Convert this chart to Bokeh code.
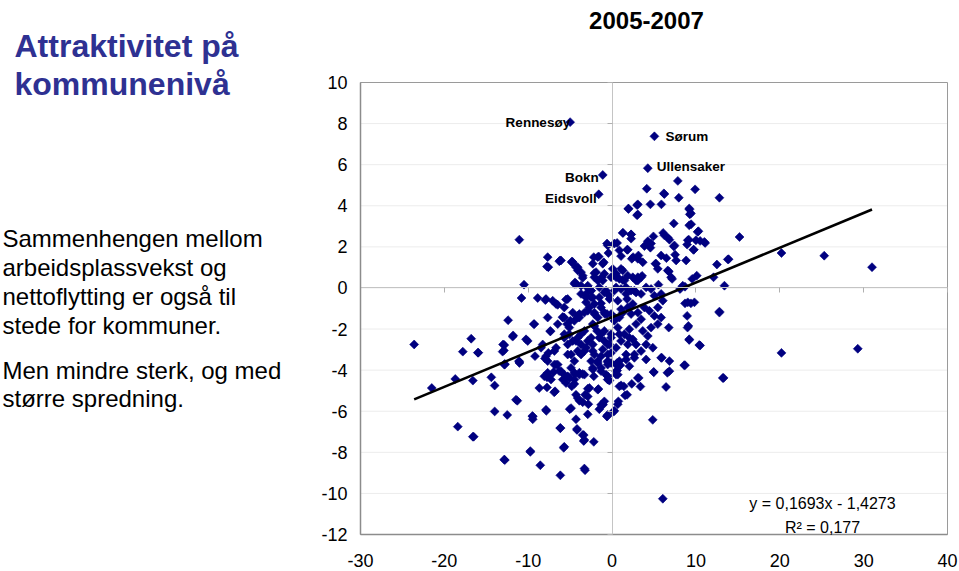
import numpy as np
from bokeh.plotting import figure
from bokeh.models import FixedTicker, Label, Range1d, LinearAxis
from bokeh.embed import file_html
from bokeh.resources import INLINE

# ---------------- data ----------------
X_TICKS = [-30, -20, -10, 0, 10, 20, 30, 40]
Y_TICKS = [-12, -10, -8, -6, -4, -2, 0, 2, 4, 6, 8, 10]

TITLE_LINES = ["Attraktivitet på", "kommunenivå"]
BODY_LINES_1 = ["Sammenhengen mellom", "arbeidsplassvekst og", "nettoflytting er også til", "stede for kommuner."]
BODY_LINES_2 = ["Men mindre sterk, og med", "større spredning."]
PERIOD = "2005-2007"

SLOPE = 0.1693
INTERCEPT = -1.4273
EQ_TEXT = "y = 0,1693x - 1,4273"
R2_TEXT = "R² = 0,177"

label_names = ["Rennesøy", "Sørum", "Ullensaker", "Bokn", "Eidsvoll"]
label_x = [-5.0, 5.05, 4.26, -1.11, -1.59]
label_y = [8.07, 7.38, 5.83, 5.5, 4.56]

pts_upper_right = [
    (7.84, 5.21), (4.14, 4.83), (6.17, 4.6), (9.9, 4.8), (7.96, 4.39), (12.8, 4.39),
    (3.07, 4.07), (4.57, 4.07), (5.88, 4.07), (1.95, 3.84), (9.23, 3.82), (3.07, 3.58), (9.27, 3.58),
    (7.36, 3.14), (9.43, 3.1), (10.3, 2.76), (1.31, 2.68), (2.27, 2.61), (6.09, 2.68), (4.93, 2.51),
    (6.84, 2.35), (9.15, 2.35), (10.5, 2.29), (11.1, 2.19), (15.2, 2.48), (-0.6, 2.16), (0.6, 2.19),
    (4.26, 2.27), (3.86, 2.04), (4.57, 1.96), (8.95, 2.11), (7.36, 2.02), (1.79, 1.86), (9.7, 1.86),
    (-0.44, 1.7), (1.07, 1.55), (2.51, 1.5), (3.07, 1.42), (7.52, 1.62), (6.48, 1.45), (13.8, 1.39),
    (12.5, 1.14), (5.17, 1.18), (5.45, 0.93), (6.77, 0.8), (3.58, 0.59), (10.1, 0.6), (9.55, 0.44),
    (7.16, 0.44), (12.1, 0.52), (13.4, 0.11), (5.53, 0.16), (8.43, 0.11), (8.11, -0.05), (9.03, -0.7),
    (9.82, -0.7), (12.8, -1.15), (8.95, -1.36),
    (6.24, 4.57), (9.2, 3.87), (9.4, 3.63), (7.44, 2.07), (6.64, 2.45), (9.03, 2.32), (10.0, 2.32),
    (9.75, 1.86), (6.24, 2.56), (4.65, 2.16), (2.27, 2.4), (5.85, 1.58), (3.14, 1.58), (3.66, 1.25),
    (5.25, 1.18), (6.64, 0.85), (7.04, 0.52), (7.64, 1.34), (8.83, 1.34), (11.0, 2.24), (10.2, 2.73),
    (9.2, 3.05),
]
pts_right = [
    (20.2, 1.7), (25.3, 1.57), (31.0, 1.01), (20.2, -3.16), (29.3, -2.96), (13.2, -4.38), (13.9, 1.4),
    (8.7, 0.06), (9.4, -0.75), (8.7, -0.75), (9.0, -1.93), (9.2, -2.5), (10.4, -2.78), (6.76, -1.93),
    (8.6, -3.76), (5.85, -3.4), (6.84, -3.56), (6.84, -4.05), (6.6, -4.13), (4.97, -4.09), (3.07, -4.38),
    (12.8, -1.2), (9.1, -1.85), (9.2, -2.53), (10.5, -2.8), (5.93, -3.4), (8.7, -3.76), (4.97, -4.1),
    (13.3, -4.38), (3.18, -4.38), (2.35, -4.67), (3.38, -4.8), (1.07, -4.74), (6.44, -4.82), (-0.32, -4.51),
    (1.55, -5.23), (0.75, -5.52), (0.27, -5.98), (-0.6, -6.26), (-1.1, -5.69), (4.85, -6.42), (-0.52, -3.6),
    (0.68, -3.73), (0.48, -4.05), (6.05, -10.26),
]
pts_lower_left = [
    (-21.5, -4.87), (-18.7, -4.43), (-16.6, -4.51), (-14.4, -4.35), (-14.0, -4.75), (-12.8, -3.73),
    (-14.0, -6.01), (-12.5, -6.18), (-18.4, -6.75), (-16.6, -7.24), (-11.3, -5.49), (-9.5, -6.23),
    (-9.46, -6.39), (-12.8, -8.38), (-9.75, -7.98), (-8.56, -8.63), (-6.17, -9.12), (-3.22, -8.87),
    (-5.77, -7.78), (-6.17, -6.83), (-2.18, -7.49), (-3.38, -7.45), (-3.38, -7.16), (-4.18, -6.91),
    (-7.84, -5.98), (-5.05, -5.9), (-4.3, -6.39), (-2.9, -6.15), (-1.52, -5.9), (-1.11, -5.66),
    (-0.6, -6.23), (0.2, -6.01), (0.68, -5.66), (-8.68, -4.87), (-7.76, -4.84), (-7.76, -4.35),
    (-6.9, -5.08), (-6.3, -4.05), (-5.7, -4.22), (-5.05, -4.38), (-4.81, -4.79), (-4.3, -5.2),
    (-3.9, -5.49), (-3.22, -5.2), (-2.83, -5.66), (-1.63, -4.92), (-2.9, -4.9), (-4.42, -4.19),
    (-3.5, -4.19), (-2.18, -4.3), (-0.44, -4.46), (0.87, -4.79), (1.4, -4.79), (1.79, -5.2),
    (0.6, -4.02), (-0.52, -3.73), (0.6, -3.65), (0.99, -3.76), (-11.05, -3.65), (-6.88, -3.73),
    (-1.7, -3.65), (-8.08, -4.3), (-7.28, -4.46), (-5.88, -4.46), (-5.49, -4.63),
    (-4.1, -5.36), (-3.5, -5.56), (-2.9, -5.28), (-1.31, -5.69), (-0.52, -6.18), (-4.89, -5.85),
    (-7.88, -5.93), (-9.46, -6.26), (-11.46, -5.44), (-6.17, -6.81), (-4.18, -6.86), (-3.5, -7.16),
    (-3.3, -7.4), (-16.5, -7.24), (-5.7, -7.73), (-9.75, -7.94), (-12.85, -8.35), (-3.3, -8.79),
    (-6.8, -5.03), (-7.48, -4.3), (-6.96, -4.09), (-6.09, -4.05), (-5.29, -4.3), (-4.5, -4.67),
    (-2.7, -4.87), (-1.71, -4.95), (-0.92, -5.52), (-0.72, -4.22), (-0.52, -4.46),
]
pts_left = [
    (-23.6, -2.75), (-11.06, 2.35), (-10.5, 0.16), (-10.8, -0.49), (-12.4, -1.57), (-16.8, -2.47),
    (-17.8, -3.1), (-16.0, -3.15), (-13.0, -2.75), (-12.9, -3.04), (-11.8, -2.31), (-11.1, -3.56),
    (-12.8, -3.7), (-9.27, -1.76), (-10.06, -2.58), (-8.87, -0.49), (-7.88, -0.54), (-7.68, 1.5),
    (-7.76, 1.04), (-6.29, 1.3), (-7.08, -0.62), (-6.48, -0.82), (-5.49, -0.56), (-4.81, 1.25),
    (-4.3, 1.01), (-3.7, 0.77), (-4.42, 0.27), (-3.5, 0.49), (-2.9, 0.0), (-3.1, -0.29), (-2.5, -0.46),
    (-2.18, 1.5), (-1.59, 1.53), (-1.91, 0.77), (-1.11, 1.18), (-0.52, 2.07), (0.28, 2.16), (0.87, 1.83),
    (1.27, 2.68), (2.27, 2.6), (1.95, 3.87), (2.98, 4.03), (2.98, 3.54), (1.87, 1.86), (2.35, 1.42),
    (0.08, 0.93), (1.07, 0.93), (0.48, 0.52), (1.27, 0.39), (-1.11, 0.36), (-1.52, 0.03), (-0.72, -0.13),
    (0.48, 0.03), (1.67, 0.03), (2.66, -0.13), (-0.32, -0.54), (0.68, -0.62), (1.79, -0.54), (2.86, 0.36),
    (3.07, 0.52), (-7.68, -1.44), (-7.36, -2.09), (-6.48, -1.76), (-5.7, -1.44), (-4.69, -1.2),
    (-4.98, -1.6), (-3.9, -1.27), (-2.9, -1.11), (-2.11, -1.27), (-1.31, -0.95), (-0.6, -1.27),
    (0.28, -1.44), (1.07, -1.03), (2.27, -1.27), (-5.7, -2.42), (-4.69, -2.58), (-3.7, -2.25),
    (-2.5, -2.42), (-1.79, -2.09), (-0.92, -2.58), (-0.12, -2.42), (0.87, -2.25), (2.06, -2.42),
    (2.86, -2.75), (-8.47, -2.91), (-7.88, -3.32), (-6.88, -3.07), (-6.68, -3.73), (-5.29, -3.24),
    (-4.5, -3.56), (-3.3, -3.07), (-2.5, -3.56), (-1.31, -3.32), (-0.12, -3.16), (0.48, -3.73),
    (1.67, -3.48), (2.66, -3.24), (-7.68, -4.13), (-3.3, -4.22), (-1.31, -4.05), (0.68, -4.22),
    (-7.6, 1.01), (-6.2, 1.34), (-4.77, 1.29), (-4.1, 1.01), (-3.5, 0.6), (-2.3, 1.18), (-1.71, 1.5),
    (-0.99, 1.25), (-2.11, 0.72), (-1.23, 0.52), (-4.3, 0.2), (-2.9, 0.11), (-2.5, -0.13), (-3.7, -0.29),
    (-7.96, -0.59), (-6.68, -0.78), (-3.1, -0.7), (-2.3, -0.46), (-1.31, -0.75), (-5.88, -1.44),
    (-4.1, -1.44), (-2.11, -1.2), (-0.84, -1.27), (-9.34, -1.76), (-15.95, -3.15), (-11.85, -2.37),
    (-12.85, -2.78), (-13.05, -3.1), (-10.26, -2.5), (-8.27, -2.75), (-7.36, -2.12), (-5.88, -1.41),
    (-11.06, -3.6), (-12.85, -3.73), (-9.19, -3.32), (-8.0, -3.43), (-7.6, -3.16), (-6.68, -2.91),
    (-6.48, -3.73), (-5.1, -2.25), (-4.3, -2.58), (-4.1, -3.07), (-3.7, -2.75), (-2.9, -2.58),
    (-2.3, -3.07), (-1.71, -3.56), (-2.3, -3.97), (-4.5, -4.13), (-3.9, -4.13), (-7.68, -3.56),
    (-5.37, -1.76), (-4.1, -1.36), (-2.11, -1.85), (-1.31, -2.25), (-0.52, -2.75), (-0.52, -3.56),
    (-4.89, -3.24),
]
pts_dense = [
    (-6.09, 1.34), (-4.69, 1.25), (-4.09, 0.85), (-4.5, 0.2), (-5.29, -0.54), (-5.7, -0.95), (-3.7, 0.11),
    (-3.1, -0.46), (-2.5, -0.13), (-2.11, 0.52), (-1.71, 0.36), (-0.92, 0.69), (-0.12, 0.52), (0.48, 0.69),
    (0.87, 0.44), (1.28, 0.85), (1.47, 0.36), (1.87, 0.6), (2.47, 0.52), (3.07, 0.36), (3.46, 0.52),
    (4.06, 0.03), (4.65, -0.05), (5.05, -0.38), (5.85, -0.29), (6.05, -0.62), (5.45, -0.95), (5.05, -1.36),
    (4.45, -1.11), (3.85, -0.95), (3.46, -0.29), (2.86, -0.22), (2.27, -0.13), (1.67, -0.29), (1.07, -0.05),
    (0.27, -0.13), (-0.32, -0.38), (-0.92, -0.22), (-1.52, -0.46), (-2.11, -0.78), (-2.71, -0.95),
    (-3.3, -1.2), (-3.9, -1.44), (-4.5, -1.6), (-5.1, -1.93), (-5.69, -2.25), (-5.29, -2.75), (-4.09, -2.42),
    (-3.3, -2.09), (-2.3, -1.76), (-1.71, -1.44), (-0.92, -1.2), (-0.12, -1.27), (0.27, -1.6), (0.87, -1.44),
    (1.28, -1.2), (1.87, -0.95), (2.47, -0.78), (3.07, -1.2), (3.46, -1.52), (2.86, -1.76), (2.06, -2.01),
    (1.47, -2.25), (0.68, -1.93), (-0.12, -2.25), (-0.92, -2.09), (-1.52, -2.42), (-2.3, -2.75), (-3.1, -2.91),
    (-3.7, -3.24), (-2.11, -3.24), (-1.11, -2.99), (-0.32, -2.75), (0.48, -2.91), (1.07, -2.58), (1.87, -2.75),
    (2.47, -2.5), (3.66, -2.09), (4.26, -2.34), (4.65, -1.93), (5.45, -1.76), (5.85, -1.44), (4.06, -2.75),
    (4.86, -2.91), (3.46, -3.07), (2.66, -3.4), (1.67, -3.24), (0.87, -3.56), (-0.12, -3.65), (-0.51, -3.24),
    (-1.31, -3.89), (-2.3, -3.89), (2.06, -3.81), (4.06, -3.48), (0.48, -4.22), (-0.51, -4.3), (-3.9, -4.22),
    (-4.89, -3.89), (-4.5, -4.46),
]

all_pts = pts_upper_right + pts_right + pts_lower_left + pts_left + pts_dense
x_vals = label_x + [q[0] for q in all_pts]
y_vals = label_y + [q[1] for q in all_pts]

# ---------------- layout ----------------
W, H = 959, 571
FL, FT, FR, FB = 360, 82, 947, 534          # plot box in page pixels
XR = (X_TICKS[0], X_TICKS[-1])
YR = (Y_TICKS[0], Y_TICKS[-1])
KX = (FR - FL) / (XR[1] - XR[0])            # px per x unit
KY = (FB - FT) / (YR[1] - YR[0])            # px per y unit
FONT = "Liberation Sans"


def dx(px):
    return XR[0] + (px - FL) / KX


def dy(py):
    return YR[1] - (py - FT) / KY


# the frame covers the whole canvas; the plot box is the sub-area XR x YR
p = figure(width=W, height=H, x_range=Range1d(dx(0), dx(W)), y_range=Range1d(dy(H), dy(0)),
           output_backend="svg", toolbar_location=None, x_axis_location=None, y_axis_location=None,
           min_border=0)
p.outline_line_color = None
p.xgrid.visible = False
p.ygrid.visible = False

# horizontal grid lines inside the box
p.segment(x0=[XR[0]] * len(Y_TICKS), y0=Y_TICKS, x1=[XR[1]] * len(Y_TICKS), y1=Y_TICKS,
          line_color="#ececec", line_width=1)
# box outline
p.quad(left=[XR[0]], right=[XR[1]], bottom=[YR[0]], top=[YR[1]], fill_color=None,
       line_color="#9a9a9a", line_width=1)


def style_label_axis(ax):
    ax.axis_line_color = "#8c8c8c"
    ax.axis_line_width = 1.5
    ax.major_tick_in = 0
    ax.major_tick_out = 0
    ax.minor_tick_line_color = None
    ax.major_label_text_font = FONT
    ax.major_label_text_font_size = "18px"
    ax.major_label_text_color = "black"


# labelled axes along the box edges
ax_left = LinearAxis(fixed_location=XR[0], bounds=YR, ticker=FixedTicker(ticks=Y_TICKS),
                     major_label_overrides={v: str(v) for v in Y_TICKS}, major_label_standoff=13)
style_label_axis(ax_left)
p.add_layout(ax_left, "left")

ax_bottom = LinearAxis(fixed_location=YR[0], bounds=XR, ticker=FixedTicker(ticks=X_TICKS),
                       major_label_overrides={v: str(v) for v in X_TICKS}, major_label_standoff=19)
style_label_axis(ax_bottom)
p.add_layout(ax_bottom, "below")


def style_zero_axis(ax):
    ax.axis_line_color = "#c4c4c4"
    ax.axis_line_width = 1
    ax.major_tick_line_color = "#b0b0b0"
    ax.major_tick_in = 0
    ax.major_tick_out = 5
    ax.minor_tick_line_color = None
    ax.major_label_text_color = None
    ax.major_label_text_font_size = "1px"


# axes crossing at zero, with their small ticks
ax_y0 = LinearAxis(fixed_location=0, bounds=YR, ticker=FixedTicker(ticks=Y_TICKS))
style_zero_axis(ax_y0)
p.add_layout(ax_y0, "left")
ax_x0 = LinearAxis(fixed_location=0, bounds=XR, ticker=FixedTicker(ticks=X_TICKS))
style_zero_axis(ax_x0)
p.add_layout(ax_x0, "below")

# scatter
p.scatter(x=x_vals, y=y_vals, marker="square", angle=np.pi / 4, size=6.3,
          fill_color="#000080", line_color="#000080", line_width=0.6)

# regression line
lx = np.array([min(x_vals), max(x_vals)])
p.line(x=lx, y=SLOPE * lx + INTERCEPT, line_color="black", line_width=2.6)

# point labels
lab_style = [("right", 0, 0), ("left", 11, 0), ("left", 9, 1.5), ("right", -4, -3), ("right", -2, -4)]
for name, x, y, (al, xo, yo) in zip(label_names, label_x, label_y, lab_style):
    p.add_layout(Label(x=x, y=y, text=name, text_align=al, text_baseline="middle",
                       x_offset=xo, y_offset=yo, text_font=FONT, text_font_style="bold",
                       text_font_size="13.5px", text_color="black"))

# equation
p.add_layout(Label(x=dx(822), y=dy(503), text=EQ_TEXT, text_align="center", text_baseline="alphabetic",
                   text_font=FONT, text_font_size="16px", text_color="black"))
p.add_layout(Label(x=dx(822), y=dy(527), text=R2_TEXT, text_align="center", text_baseline="alphabetic",
                   text_font=FONT, text_font_size="16px", text_color="black"))

# period title
p.add_layout(Label(x=dx(646), y=dy(20), text=PERIOD, text_align="center", text_baseline="alphabetic",
                   text_font=FONT, text_font_style="bold", text_font_size="24px", text_color="black"))

# left text panel
for i, s in enumerate(TITLE_LINES):
    p.add_layout(Label(x=dx(14), y=dy(45 + 38 * i), text=s, text_align="left", text_baseline="alphabetic",
                       text_font=FONT, text_font_style="bold", text_font_size="32px", text_color="#2E3192"))
for i, s in enumerate(BODY_LINES_1):
    p.add_layout(Label(x=dx(2), y=dy(238 + 29 * i), text=s, text_align="left", text_baseline="alphabetic",
                       text_font=FONT, text_font_size="24px", text_color="black"))
for i, s in enumerate(BODY_LINES_2):
    p.add_layout(Label(x=dx(2), y=dy(370 + 28 * i), text=s, text_align="left", text_baseline="alphabetic",
                       text_font=FONT, text_font_size="24px", text_color="black"))

open("out.html", "w").write(file_html(p, INLINE))
